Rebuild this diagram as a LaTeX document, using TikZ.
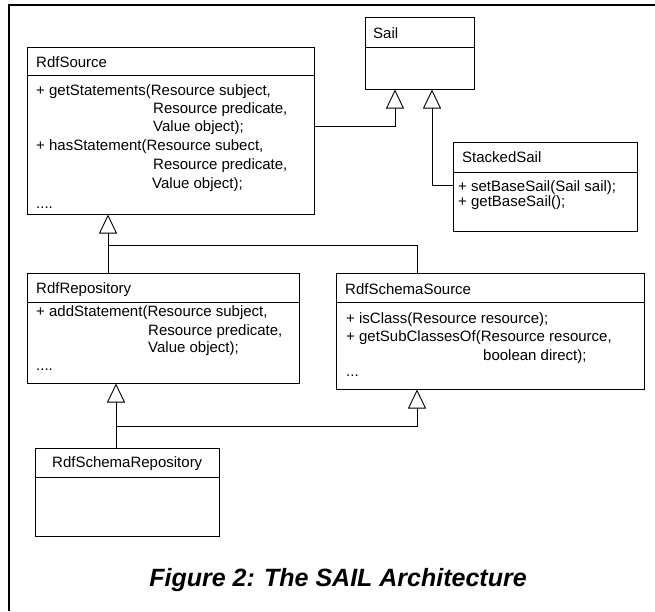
\documentclass[tikz,border=0pt]{standalone}
\usepackage{fontspec}
\setmainfont{Liberation Sans}
\usetikzlibrary{arrows.meta}

\tikzset{
  classbox/.style={draw, line width=1pt, rectangle, inner sep=0pt},
  gen/.style={line width=0.9pt, -{Triangle[open, length=19pt, width=18pt, line width=0.9pt]}},
  link/.style={line width=0.9pt},
  member/.style={anchor=west, inner sep=0pt, font=\fontsize{15}{18}\selectfont},
}

\begin{document}
\begin{tikzpicture}[x=1pt, y=-1pt]
            \useasboundingbox (0,0) rectangle (655,611);
            \draw[line width=1.5pt] (655,5) -- (9,5) -- (9,611); % frame

            % class boxes
            \node[classbox, minimum width=287pt, minimum height=167pt] (src) at (170.5,130.5) {};
            \node[classbox, minimum width=109pt, minimum height=72pt] (sail) at (419.5,53) {};
            \node[classbox, minimum width=184pt, minimum height=89pt] (stk) at (545,186.5) {};
            \node[classbox, minimum width=272pt, minimum height=110pt] (repo) at (163,328) {};
            \node[classbox, minimum width=308pt, minimum height=116pt] (schsrc) at (490,331) {};
            \node[classbox, minimum width=184pt, minimum height=88pt] (schrepo) at (127,492) {};

            % header lines
            \draw[line width=1pt] (src.west |- 0,75) -- (src.east |- 0,75);
            \draw[line width=1pt] (sail.west |- 0,47) -- (sail.east |- 0,47);
            \draw[line width=1pt] (stk.west |- 0,172) -- (stk.east |- 0,172);
            \draw[line width=1pt] (repo.west |- 0,302) -- (repo.east |- 0,302);
            \draw[line width=1pt] (schsrc.west |- 0,302) -- (schsrc.east |- 0,302);
            \draw[line width=1pt] (schrepo.west |- 0,477) -- (schrepo.east |- 0,477);

            % RdfSource
            \node[member] (srcT) at (36,62) {RdfSource};
            \node[member] (src1) at (36,92) {+ getStatements(Resource subject,};
            \node[member] (src2) at (153,110) {Resource predicate,};
            \node[member] (src3) at (153,128) {Value object);};
            \node[member] (src4) at (36,147) {+ hasStatement(Resource subect,};
            \node[member] (src5) at (153,166) {Resource predicate,};
            \node[member] (src6) at (152,185) {Value object);};
            \node[member] (src7) at (36,208) {....};

            % Sail
            \node[member] (sailT) at (373,33) {Sail};

            % StackedSail
            \node[member] (stkT) at (462,157) {StackedSail};
            \node[member] (stk1) at (458,188) {+ setBaseSail(Sail sail);};
            \node[member] (stk2) at (458,203) {+ getBaseSail();};

            % RdfRepository
            \node[member] (repoT) at (36,290) {RdfRepository};
            \node[member] (repo1) at (36,313) {+ addStatement(Resource subject,};
            \node[member] (repo2) at (148,332) {Resource predicate,};
            \node[member] (repo3) at (148,349) {Value object);};
            \node[member] (repo4) at (36,370) {....};

            % RdfSchemaSource
            \node[member] (schsrcT) at (345,289) {RdfSchemaSource};
            \node[member] (schsrc1) at (346,320) {+ isClass(Resource resource);};
            \node[member] (schsrc2) at (346,338) {+ getSubClassesOf(Resource resource,};
            \node[member] (schsrc3) at (483,357) {boolean direct);};
            \node[member] (schsrc4) at (346,376) {...};

            % RdfSchemaRepository
            \node[member] (schrepoT) at (52,464) {RdfSchemaRepository};

            % joints
            \coordinate (j1) at (108,245);
            \coordinate (j2) at (116,426);

            % inheritance
            \draw[gen] ([yshift=4.5pt]src.east) -| ([xshift=-24.5pt]sail.south); % src-sail
            \draw[gen] ([yshift=1.5pt]stk.west) -| ([xshift=12.5pt]sail.south); % stk-sail
            \draw[gen] (repo.north -| j1) -- (src.south -| j1); % repo-src
            \draw[link] ([xshift=-73pt]schsrc.north) |- (j1); % schsrc-src
            \draw[gen] (schrepo.north -| j2) -- (repo.south -| j2); % schrepo-repo
            \draw[gen] (j2) -| ([xshift=-73pt]schsrc.south); % schrepo-schsrc

            % caption
            \node[font=\fontsize{25}{30}\selectfont\bfseries\itshape] (cap) at (338,580) {Figure 2: The SAIL Architecture};
        \end{tikzpicture}
\end{document}
